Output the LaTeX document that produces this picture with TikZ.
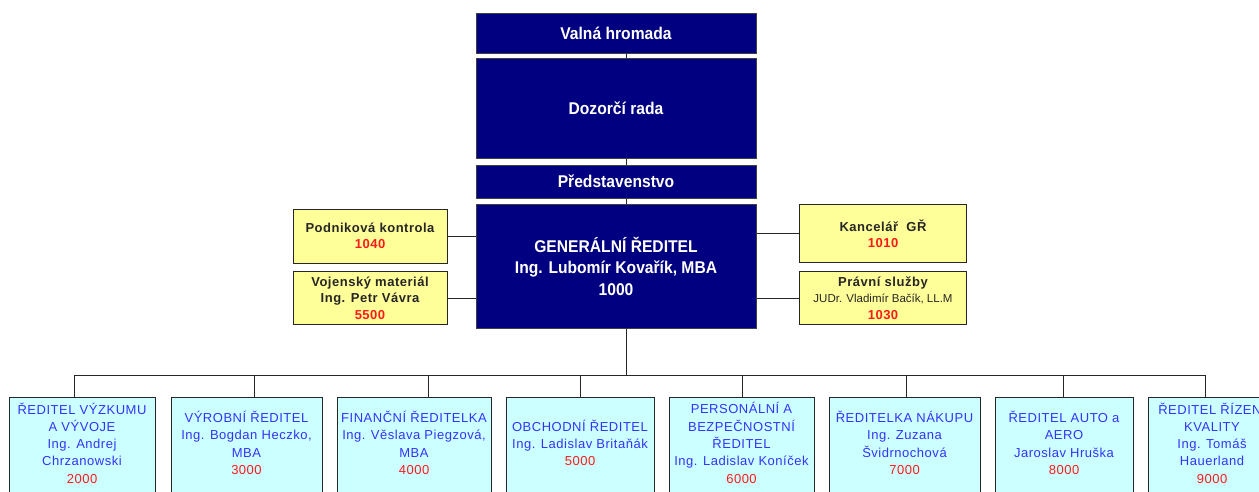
\documentclass[tikz,border=0pt]{standalone}
\usepackage{fontspec}
\setmainfont{Liberation Sans}
\newfontfamily\boardfont[FakeStretch=0.92]{Liberation Sans}
\newfontfamily\spacedfont[LetterSpace=4]{Liberation Sans}

\definecolor{boardnavy}{HTML}{000080}
\definecolor{staffyellow}{HTML}{FFFF99}
\definecolor{divcyan}{HTML}{CCFFFF}
\definecolor{divblue}{HTML}{3333FF}
\definecolor{deptred}{HTML}{FF1A1A}
\newcommand{\deptno}[1]{\textcolor{deptred}{#1}}

\tikzset{
  board/.style={draw=black!75,line width=1pt,fill=boardnavy,text=white,inner sep=0pt,
    minimum width=280pt,align=center,font=\boardfont\bfseries\fontsize{17}{21.5}\selectfont},
  staff/.style={draw=black!85,line width=1pt,fill=staffyellow,text=black!85,inner sep=0pt,
    align=center,font=\spacedfont\bfseries\fontsize{13}{16.5}\selectfont},
  division/.style={draw=black!85,line width=1pt,fill=divcyan,anchor=north,inner sep=0pt,
    minimum height=120pt},
  divtext/.style={text=divblue,align=center,inner sep=0pt,
    font=\spacedfont\fontsize{13}{17.3}\selectfont},
  link/.style={draw=black!85,line width=1pt}
}

\begin{document}
\begin{tikzpicture}[x=1pt,y=-1pt]
\useasboundingbox (0,0) rectangle (1259,491);
\clip (0,0) rectangle (1259,491);
            % Board
\node[board,minimum height=40pt ] (vh) at (616,33   ) {Valná hromada};
\node[board,minimum height=100pt] (dr) at (616,108  ) {Dozorčí rada};
\node[board,minimum height=33pt ] (pr) at (616,181.5) {Představenstvo};
\node[board,minimum height=124pt] (gr) at (616,266  ) {GENERÁLNÍ ŘEDITEL\\Ing. Lubomír Kovařík, MBA\\1000};
            % Staff
\node[staff,minimum width=154pt,minimum height=54pt] (pk) at (370,236  ) {Podniková kontrola\\\deptno{1040}};
\node[staff,minimum width=154pt,minimum height=53pt] (vm) at (370,298  ) {Vojenský materiál\\Ing. Petr Vávra\\\deptno{5500}};
\node[staff,minimum width=167pt,minimum height=58pt] (kg) at (883,233.5) {Kancelář\ \ GŘ\\\deptno{1010}};
\node[staff,minimum width=167pt,minimum height=53pt] (ps) at (883,298  ) {Právní služby\\{\normalfont\fontsize{11.5}{14}\selectfont JUDr. Vladimír Bačík, LL.M}\\\deptno{1030}};
            % Divisions
\node[division,minimum width=146pt] (d1) at (82   ,397) {};
\node[division,minimum width=151pt] (d2) at (246.5,397) {};
\node[division,minimum width=154pt] (d3) at (414  ,397) {};
\node[division,minimum width=148pt] (d4) at (580  ,397) {};
\node[division,minimum width=145pt] (d5) at (741.5,397) {};
\node[division,minimum width=151pt] (d6) at (904.5,397) {};
\node[division,minimum width=138pt] (d7) at (1064 ,397) {};
\node[division,minimum width=128pt] (d8) at (1212 ,397) {};
\node[divtext] (t1) at (82   ,443) {ŘEDITEL VÝZKUMU\\A VÝVOJE\\Ing. Andrej\\Chrzanowski\\\deptno{2000}};
\node[divtext] (t2) at (246.5,443) {VÝROBNÍ ŘEDITEL\\Ing. Bogdan Heczko,\\MBA\\\deptno{3000}};
\node[divtext] (t3) at (414  ,443) {FINANČNÍ ŘEDITELKA\\Ing. Věslava Piegzová,\\MBA\\\deptno{4000}};
\node[divtext] (t4) at (580  ,443) {OBCHODNÍ ŘEDITEL\\Ing. Ladislav Britaňák\\\deptno{5000}};
\node[divtext] (t5) at (741.5,443) {PERSONÁLNÍ A\\BEZPEČNOSTNÍ\\ŘEDITEL\\Ing. Ladislav Koníček\\\deptno{6000}};
\node[divtext] (t6) at (904.5,443) {ŘEDITELKA NÁKUPU\\Ing. Zuzana\\Švidrnochová\\\deptno{7000}};
\node[divtext] (t7) at (1064 ,443) {ŘEDITEL AUTO a\\AERO\\Jaroslav Hruška\\\deptno{8000}};
\node[divtext] (t8) at (1212 ,443) {ŘEDITEL ŘÍZENÍ\\KVALITY\\Ing. Tomáš\\Hauerland\\\deptno{9000}};
            % Lines
\coordinate (spine) at (626,0);
\coordinate (bus) at (626,375);
\coordinate (j1) at (74  ,375);
\coordinate (j2) at (254 ,375);
\coordinate (j3) at (428 ,375);
\coordinate (j4) at (580 ,375);
\coordinate (j5) at (742 ,375);
\coordinate (j6) at (906 ,375);
\coordinate (j7) at (1063,375);
\coordinate (j8) at (1205,375);
\draw[link] (vh.south -| spine) -- (dr.north -| spine);
\draw[link] (dr.south -| spine) -- (pr.north -| spine);
\draw[link] (pr.south -| spine) -- (gr.north -| spine);
\draw[link] (gr.south -| spine) -- (bus);
\draw[link] (pk.east) -- (pk.east -| gr.west);
\draw[link] (vm.east) -- (vm.east -| gr.west);
\draw[link] (kg.west) -- (kg.west -| gr.east);
\draw[link] (ps.west) -- (ps.west -| gr.east);
\draw[link] (j1) -- (j8);
\foreach \i in {1,...,8}
  \draw[link] (j\i) -- (j\i |- d\i.north);
\end{tikzpicture}
\end{document}
